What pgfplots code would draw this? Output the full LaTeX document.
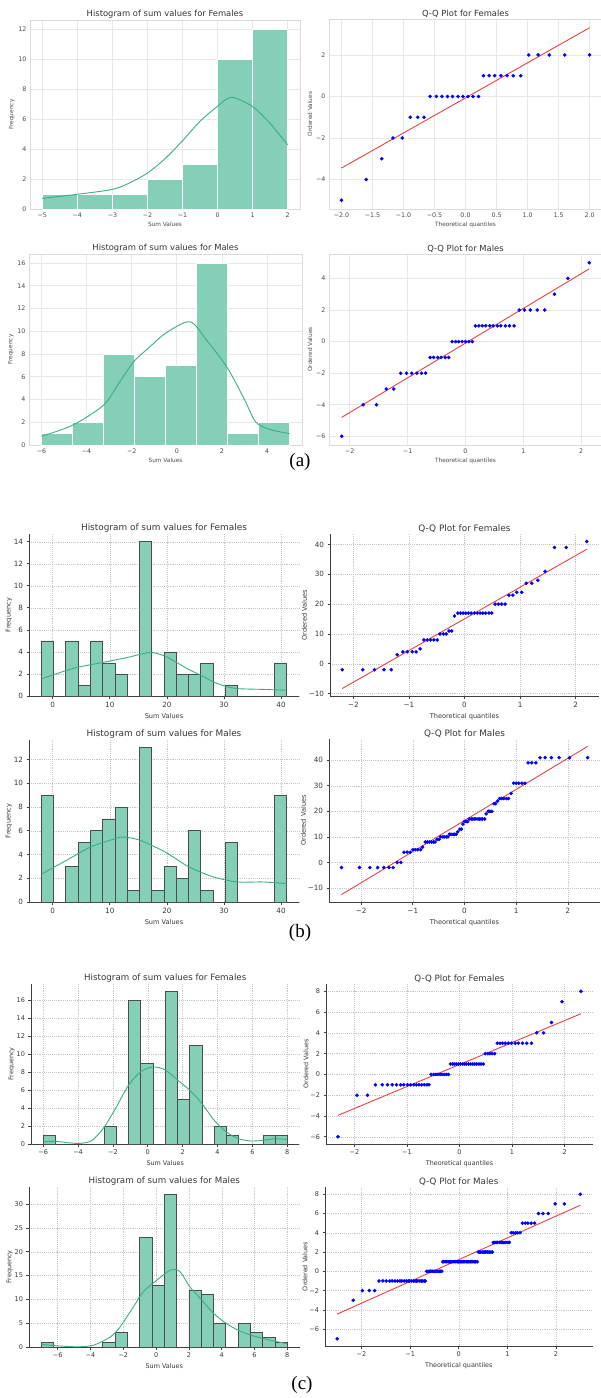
\documentclass[border=0pt]{standalone}
\usepackage{fontspec}
\setmainfont{DejaVu Sans}
\newfontfamily\capfont{Liberation Serif}
\usepackage{pgfplots}
\pgfplotsset{compat=1.18}

\definecolor{barfill}{RGB}{133,206,183}
\definecolor{kdeline}{RGB}{58,172,134}
\definecolor{qqred}{RGB}{236,64,64}
\definecolor{txtA}{RGB}{75,75,75}
\definecolor{txtB}{RGB}{55,55,55}

\pgfplotsset{
  stA/.style={scale only axis, anchor=north west,
    grid=major, grid style={draw=black!9, line width=0.7pt},
    axis line style={draw=black!14, line width=0.7pt},
    major tick length=0pt,
    tick label style={font=\fontsize{6.3}{7}\selectfont, text=txtA},
    label style={font=\fontsize{5.8}{7}\selectfont, text=txtA},
    ylabel style={yshift=-3pt}, xlabel style={yshift=2pt},
    title style={font=\fontsize{8.4}{10}\selectfont, text=black!80, yshift=-8pt}},
  stB/.style={scale only axis, anchor=north west,
    axis x line*=bottom, axis y line*=left,
    grid=major, grid style={draw=black!22, dash pattern=on 0.6pt off 1.3pt, line width=0.4pt},
    axis line style={draw=black!75, line width=0.9pt},
    tick align=outside, major tick length=2.5pt,
    tick style={draw=black!75, line width=0.7pt},
    tick label style={font=\fontsize{7.2}{8}\selectfont, text=txtB},
    label style={font=\fontsize{6.6}{8}\selectfont, text=txtB},
    ylabel style={yshift=-5pt}, xlabel style={yshift=1pt},
    title style={font=\fontsize{8.9}{10}\selectfont, text=txtB, yshift=-8pt}},
  stC/.style={stB,
    tick label style={font=\fontsize{6.5}{8}\selectfont, text=txtB},
    label style={font=\fontsize{6.4}{8}\selectfont, text=txtB},
    title style={font=\fontsize{8.7}{10}\selectfont, text=txtB}},
  barA/.style={ybar, bar shift=0pt, fill=barfill, draw=white, line width=0.8pt},
  barB/.style={ybar, bar shift=0pt, fill=barfill, draw=black!70, line width=0.7pt},
  kde/.style={smooth, color=kdeline, line width=0.9pt, no markers},
  qqpts/.style={only marks, mark=*, mark size=1.6pt, color=blue, mark options={draw=blue, fill=blue}},
  qqline/.style={color=qqred, line width=0.9pt, no markers},
}

\begin{document}
\begin{tikzpicture}
\useasboundingbox (0pt,0pt) rectangle (600pt,-1398pt);

% ---------------- (a) ----------------
\begin{axis}[stA, at={(30pt,-20pt)}, width=270pt, height=189pt,
  xmin=-5.35, xmax=2.35, ymin=0, ymax=12.6,
  xtick={-5,...,2}, xticklabels={−5,−4,−3,−2,−1,0,1,2},
  ytick={0,2,...,12}, yticklabels={0,2,4,6,8,10,12},
  title={Histogram of sum values for Females}, xlabel={Sum Values}, ylabel={Frequency}]
\addplot[barA, bar width=1] coordinates {(-4.5,1) (-3.5,1) (-2.5,1) (-1.5,2) (-0.5,3) (0.5,10) (1.5,12)};
\addplot[kde] coordinates {(-5,0.71) (-4,0.98) (-3,1.31) (-2.5,1.75) (-2,2.4) (-1.5,3.35) (-1,4.55) (-0.5,5.85) (0,6.85) (0.4,7.45) (1,6.82) (1.5,5.7) (2,4.27)};
\end{axis}

\begin{axis}[stA, at={(329pt,-19pt)}, width=273pt, height=190pt,
  xmin=-2.2, xmax=2.2, ymin=-5.42, ymax=3.73,
  xtick={-2,-1.5,-1,-0.5,0,0.5,1,1.5,2}, xticklabels={−2.0,−1.5,−1.0,−0.5,0.0,0.5,1.0,1.5,2.0},
  ytick={-4,-2,0,2}, yticklabels={−4,−2,0,2},
  title={Q-Q Plot for Females}, xlabel={Theoretical quantiles}, ylabel={Ordered Values}]
\addplot[qqpts] coordinates {(-2.00,-5) (-1.60,-4) (-1.35,-3) (-1.17,-2) (-1.02,-2) (-0.89,-1) (-0.77,-1) (-0.67,-1)
 (-0.57,0) (-0.47,0) (-0.38,0) (-0.29,0) (-0.21,0) (-0.12,0) (-0.04,0) (0.04,0) (0.12,0) (0.21,0)
 (0.29,1) (0.38,1) (0.47,1) (0.57,1) (0.67,1) (0.77,1) (0.89,1) (1.02,2) (1.17,2) (1.35,2) (1.60,2) (2.00,2)};
\addplot[qqline] coordinates {(-2.00,-3.45) (2.00,3.31)};
\end{axis}

\begin{axis}[stA, at={(29pt,-254pt)}, width=273pt, height=191pt,
  xmin=-6.55, xmax=5.55, ymin=0, ymax=16.8,
  xtick={-6,-4,...,4}, xticklabels={−6,−4,−2,0,2,4},
  ytick={0,2,...,16}, yticklabels={0,2,4,6,8,10,12,14,16},
  title={Histogram of sum values for Males}, xlabel={Sum Values}, ylabel={Frequency}]
\addplot[barA, bar width=1.375] coordinates {(-5.3125,1) (-3.9375,2) (-2.5625,8) (-1.1875,6) (0.1875,7) (1.5625,16) (2.9375,1) (4.3125,2)};
\addplot[kde] coordinates {(-6,0.77) (-4.62,1.74) (-3.25,3.5) (-2.58,5.4) (-1.92,7.3) (-1.19,8.64) (-0.49,9.84) (0.58,10.84) (1.32,9.22) (2.25,6.76) (3.0,4.0) (3.5,2.03) (4.11,1.38) (5,1.0)};
\end{axis}

\begin{axis}[stA, at={(329pt,-254pt)}, width=273pt, height=191pt,
  xmin=-2.36, xmax=2.36, ymin=-6.55, ymax=5.55,
  xtick={-2,...,2}, xticklabels={−2,−1,0,1,2},
  ytick={-6,-4,...,4}, yticklabels={−6,−4,−2,0,2,4},
  title={Q-Q Plot for Males}, xlabel={Theoretical quantiles}, ylabel={Ordered Values}]
\addplot[qqpts] coordinates {(-2.14,-6) (-1.77,-4) (-1.54,-4) (-1.37,-3) (-1.24,-3) (-1.12,-2) (-1.02,-2) (-0.93,-2) (-0.84,-2) (-0.76,-2) (-0.69,-2)
 (-0.61,-1) (-0.55,-1) (-0.48,-1) (-0.42,-1) (-0.35,-1) (-0.29,-1) (-0.23,0) (-0.17,0) (-0.12,0) (-0.06,0) (0,0) (0.06,0) (0.12,0)
 (0.17,1) (0.23,1) (0.29,1) (0.35,1) (0.42,1) (0.48,1) (0.55,1) (0.61,1) (0.69,1) (0.76,1) (0.84,1)
 (0.93,2) (1.02,2) (1.12,2) (1.24,2) (1.37,2) (1.54,3) (1.77,4) (2.14,5)};
\addplot[qqline] coordinates {(-2.14,-4.80) (2.14,4.61)};
\end{axis}

\node[font=\capfont\fontsize{19}{22}\selectfont] at (300pt,-462pt) {(a)};

% ---------------- (b) ----------------
\begin{axis}[stB, at={(29pt,-534pt)}, width=270pt, height=162pt,
  xmin=-4.15, xmax=43.15, ymin=0, ymax=14.7,
  xtick={0,10,20,30,40}, xticklabels={0,10,20,30,40},
  ytick={0,2,...,14}, yticklabels={0,2,4,6,8,10,12,14},
  title={Histogram of sum values for Females}, xlabel={Sum Values}, ylabel={Frequency}]
\addplot[barB, bar width=2.15] coordinates {(-0.925,5) (3.375,5) (5.525,1) (7.675,5) (9.825,3) (11.975,2) (16.275,14) (20.575,4) (22.725,2) (24.875,2) (27.025,3) (31.325,1) (39.925,3)};
\addplot[kde] coordinates {(-2,1.55) (2,2.25) (4.5,2.62) (8.8,3.05) (13.1,3.5) (17,3.95) (19.5,3.65) (21.7,3.05) (23.9,2.39) (26,1.87) (28.2,1.27) (30.3,0.88) (32.4,0.67) (36.8,0.6) (41,0.52)};
\end{axis}

\begin{axis}[stB, at={(330pt,-534pt)}, width=269pt, height=162pt,
  xmin=-2.42, xmax=2.42, ymin=-10.8, ymax=43.5,
  xtick={-2,...,2}, xticklabels={−2,−1,0,1,2},
  ytick={-10,0,...,40}, yticklabels={−10,0,10,20,30,40},
  title={Q-Q Plot for Females}, xlabel={Theoretical quantiles}, ylabel={Ordered Values}]
\addplot[qqpts] coordinates {(-2.20,-2) (-1.83,-2) (-1.62,-2) (-1.45,-2) (-1.32,-2) (-1.21,3) (-1.11,4) (-1.03,4) (-0.94,4) (-0.87,4) (-0.80,5)
 (-0.73,8) (-0.67,8) (-0.61,8) (-0.55,8) (-0.49,8) (-0.44,10) (-0.38,10) (-0.33,10) (-0.28,11) (-0.23,11) (-0.18,16)
 (-0.12,17) (-0.07,17) (-0.025,17) (0.025,17) (0.07,17) (0.12,17) (0.18,17) (0.23,17) (0.28,17) (0.33,17) (0.38,17) (0.44,17) (0.49,17)
 (0.55,20) (0.61,20) (0.67,20) (0.73,20) (0.80,23) (0.87,23) (0.94,24) (1.03,24) (1.11,27) (1.21,27) (1.32,28) (1.45,31) (1.62,39) (1.83,39) (2.20,41)};
\addplot[qqline] coordinates {(-2.20,-8.3) (2.20,38.4)};
\end{axis}

\begin{axis}[stB, at={(29pt,-740pt)}, width=270pt, height=162pt,
  xmin=-4.15, xmax=43.15, ymin=0, ymax=13.65,
  xtick={0,10,20,30,40}, xticklabels={0,10,20,30,40},
  ytick={0,2,...,12}, yticklabels={0,2,4,6,8,10,12},
  title={Histogram of sum values for Males}, xlabel={Sum Values}, ylabel={Frequency}]
\addplot[barB, bar width=2.15] coordinates {(-0.925,9) (3.375,3) (5.525,5) (7.675,6) (9.825,7) (11.975,8) (14.125,1) (16.275,13) (18.425,1) (20.575,3) (22.725,2) (24.875,6) (27.025,1) (31.325,5) (39.925,9)};
\addplot[kde] coordinates {(-2,2.34) (2.45,3.52) (6.66,4.64) (10.97,5.34) (12.5,5.47) (15.3,5.2) (19.67,4.22) (23.9,2.95) (28.2,2.11) (32.4,1.69) (36.8,1.69) (41,1.55)};
\end{axis}

\begin{axis}[stB, at={(329pt,-739pt)}, width=271pt, height=163pt,
  xmin=-2.62, xmax=2.62, ymin=-15.5, ymax=48.3,
  xtick={-2,...,2}, xticklabels={−2,−1,0,1,2},
  ytick={-10,0,...,40}, yticklabels={−10,0,10,20,30,40},
  title={Q-Q Plot for Males}, xlabel={Theoretical quantiles}, ylabel={Ordered Values}]
\addplot[qqpts] coordinates {(-2.38,-2) (-2.03,-2) (-1.83,-2) (-1.68,-2) (-1.56,-2) (-1.46,-2) (-1.38,-2) (-1.30,0) (-1.23,0)
 (-1.17,4) (-1.11,4) (-1.05,4) (-1.00,5) (-0.95,5) (-0.90,5) (-0.85,5) (-0.81,6)
 (-0.76,8) (-0.72,8) (-0.68,8) (-0.64,8) (-0.60,8) (-0.57,8) (-0.53,9) (-0.49,9)
 (-0.46,10) (-0.42,10) (-0.39,10) (-0.35,10) (-0.32,10) (-0.29,11) (-0.26,11) (-0.22,11) (-0.19,11) (-0.16,11) (-0.13,12) (-0.09,13) (-0.06,13) (-0.03,15)
 (0,16) (0.03,16) (0.06,16) (0.09,17) (0.13,17) (0.16,17) (0.19,17) (0.22,17) (0.26,17) (0.29,17) (0.32,17) (0.35,17) (0.39,17)
 (0.42,19) (0.46,20) (0.49,20) (0.53,20) (0.57,23) (0.60,23) (0.64,24) (0.68,25) (0.72,25) (0.76,25) (0.81,25) (0.85,25) (0.90,27)
 (0.95,31) (1.00,31) (1.05,31) (1.11,31) (1.17,31) (1.23,39) (1.30,39) (1.38,39) (1.46,41) (1.56,41) (1.68,41) (1.83,41) (2.03,41) (2.38,41)};
\addplot[qqline] coordinates {(-2.38,-12.6) (2.38,45.4)};
\end{axis}

\node[font=\capfont\fontsize{19}{22}\selectfont] at (300pt,-933pt) {(b)};

% ---------------- (c) ----------------
\begin{axis}[stC, at={(31pt,-984pt)}, width=268.5pt, height=160pt,
  xmin=-6.7, xmax=8.7, ymin=0, ymax=17.85,
  xtick={-6,-4,...,8}, xticklabels={−6,−4,−2,0,2,4,6,8},
  ytick={0,2,...,16}, yticklabels={0,2,4,6,8,10,12,14,16},
  title={Histogram of sum values for Females}, xlabel={Sum Values}, ylabel={Frequency}]
\addplot[barB, bar width=0.7] coordinates {(-5.65,1) (-2.15,2) (-0.75,16) (-0.05,9) (1.35,17) (2.05,5) (2.75,11) (4.15,2) (4.85,1) (6.95,1) (7.65,1)};
\addplot[kde] coordinates {(-6,0.25) (-5.3,0.3) (-4.6,0.15) (-3.9,0.07) (-3.2,0.4) (-2.5,1.9) (-1.8,4.15) (-1.1,6.58) (-0.4,8.07) (0.3,8.6) (1.0,8.26) (1.7,7.14) (2.4,6.02) (3.1,4.53) (3.8,2.66) (4.5,1.35) (5.2,0.6) (5.9,0.34) (6.6,0.41) (7.3,0.6) (8.0,0.5)};
\end{axis}

\begin{axis}[stC, at={(326pt,-984pt)}, width=267pt, height=160pt,
  xmin=-2.54, xmax=2.54, ymin=-6.7, ymax=8.7,
  xtick={-2,...,2}, xticklabels={−2,−1,0,1,2},
  ytick={-6,-4,...,8}, yticklabels={−6,−4,−2,0,2,4,6,8},
  title={Q-Q Plot for Females}, xlabel={Theoretical quantiles}, ylabel={Ordered Values}]
\addplot[qqpts] coordinates {(-2.31,-6) (-1.95,-2) (-1.75,-2)
 (-1.60,-1) (-1.47,-1) (-1.37,-1) (-1.28,-1) (-1.20,-1) (-1.12,-1) (-1.06,-1) (-0.99,-1) (-0.93,-1) (-0.87,-1) (-0.82,-1) (-0.77,-1) (-0.72,-1) (-0.67,-1) (-0.62,-1) (-0.58,-1)
 (-0.54,0) (-0.49,0) (-0.45,0) (-0.41,0) (-0.37,0) (-0.33,0) (-0.29,0) (-0.25,0) (-0.21,0)
 (-0.17,1) (-0.13,1) (-0.10,1) (-0.06,1) (-0.02,1) (0.02,1) (0.06,1) (0.10,1) (0.13,1) (0.17,1) (0.21,1) (0.25,1) (0.29,1) (0.33,1) (0.37,1) (0.41,1) (0.45,1)
 (0.49,2) (0.54,2) (0.58,2) (0.62,2) (0.67,2)
 (0.72,3) (0.77,3) (0.82,3) (0.87,3) (0.93,3) (0.99,3) (1.06,3) (1.12,3) (1.20,3) (1.28,3) (1.37,3)
 (1.47,4) (1.60,4) (1.75,5) (1.95,7) (2.31,8)};
\addplot[qqline] coordinates {(-2.31,-3.94) (2.31,5.84)};
\end{axis}

\begin{axis}[stC, at={(29pt,-1187pt)}, width=270.6pt, height=160pt,
  xmin=-7.75, xmax=8.75, ymin=0, ymax=33.6,
  xtick={-6,-4,...,8}, xticklabels={−6,−4,−2,0,2,4,6,8},
  ytick={0,5,...,30}, yticklabels={0,5,10,15,20,25,30},
  title={Histogram of sum values for Males}, xlabel={Sum Values}, ylabel={Frequency}]
\addplot[barB, bar width=0.75] coordinates {(-6.625,1) (-2.875,1) (-2.125,3) (-0.625,23) (0.125,13) (0.875,32) (2.375,12) (3.125,11) (3.875,5) (5.375,5) (6.125,3) (6.875,2) (7.625,1)};
\addplot[kde] coordinates {(-7,0.57) (-6.2,0.29) (-4.8,0.05) (-3.8,0.4) (-2.8,2.1) (-2.2,4.2) (-1.39,8.4) (-0.78,11.6) (0.03,14.0) (0.9,16.2) (1.46,15.8) (2.07,12.6) (2.8,9.8) (3.53,7.0) (4.3,4.9) (5.02,3.5) (5.77,2.5) (6.55,1.77) (7.26,1.2) (8.0,0.7)};
\end{axis}

\begin{axis}[stC, at={(325pt,-1187pt)}, width=267.5pt, height=159pt,
  xmin=-2.75, xmax=2.75, ymin=-7.75, ymax=8.75,
  xtick={-2,...,2}, xticklabels={−2,−1,0,1,2},
  ytick={-6,-4,...,8}, yticklabels={−6,−4,−2,0,2,4,6,8},
  title={Q-Q Plot for Males}, xlabel={Theoretical quantiles}, ylabel={Ordered Values}]
\addplot[qqpts] coordinates {(-2.50,-7) (-2.17,-3) (-1.98,-2) (-1.84,-2) (-1.73,-2)
 (-1.64,-1) (-1.56,-1) (-1.49,-1) (-1.42,-1) (-1.37,-1) (-1.31,-1) (-1.26,-1) (-1.21,-1) (-1.17,-1) (-1.12,-1) (-1.08,-1) (-1.04,-1) (-1.01,-1) (-0.97,-1) (-0.93,-1) (-0.90,-1) (-0.87,-1) (-0.84,-1) (-0.80,-1) (-0.77,-1) (-0.74,-1) (-0.71,-1) (-0.69,-1)
 (-0.66,0) (-0.63,0) (-0.60,0) (-0.58,0) (-0.55,0) (-0.53,0) (-0.50,0) (-0.48,0) (-0.45,0) (-0.43,0) (-0.40,0) (-0.38,0) (-0.35,0)
 (-0.33,1) (-0.31,1) (-0.28,1) (-0.26,1) (-0.24,1) (-0.21,1) (-0.19,1) (-0.17,1) (-0.15,1) (-0.12,1) (-0.10,1) (-0.08,1) (-0.06,1) (-0.03,1) (-0.01,1)
 (0.01,1) (0.03,1) (0.06,1) (0.08,1) (0.10,1) (0.12,1) (0.15,1) (0.17,1) (0.19,1) (0.21,1) (0.24,1) (0.26,1) (0.28,1) (0.31,1) (0.33,1) (0.35,1) (0.38,1)
 (0.40,2) (0.43,2) (0.45,2) (0.48,2) (0.50,2) (0.53,2) (0.55,2) (0.58,2) (0.60,2) (0.63,2) (0.66,2) (0.69,2)
 (0.71,3) (0.74,3) (0.77,3) (0.80,3) (0.84,3) (0.87,3) (0.90,3) (0.93,3) (0.97,3) (1.01,3) (1.04,3)
 (1.08,4) (1.12,4) (1.17,4) (1.21,4) (1.26,4)
 (1.31,5) (1.37,5) (1.42,5) (1.49,5) (1.56,5)
 (1.64,6) (1.73,6) (1.84,6) (1.98,7) (2.17,7) (2.50,8)};
\addplot[qqline] coordinates {(-2.50,-4.44) (2.50,6.86)};
\end{axis}

\node[font=\capfont\fontsize{19}{22}\selectfont] at (302pt,-1385pt) {(c)};
\end{tikzpicture}
\end{document}
